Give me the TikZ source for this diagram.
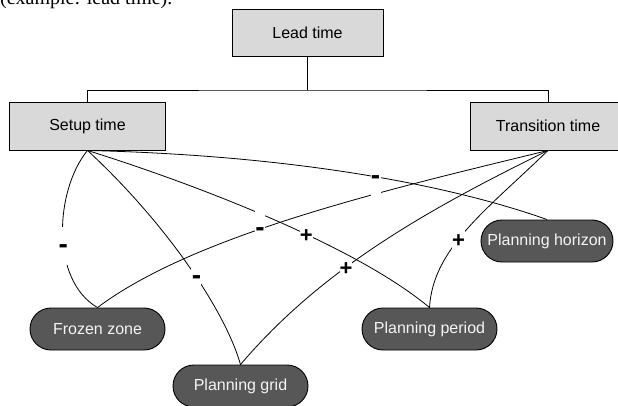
\documentclass[tikz,border=0pt]{standalone}
\usepackage{fontspec}
\setmainfont{Liberation Sans}
\newfontfamily\tnrfont{Liberation Serif}
\definecolor{boxgray}{HTML}{D9D9D9}
\definecolor{pillgray}{HTML}{575757}
\definecolor{pilltext}{HTML}{F4F4F4}
\begin{document}
\begin{tikzpicture}[x=1pt,y=-1pt,
  every node/.style={font=\fontsize{16}{19}\selectfont},
  sqbox/.style={draw=black, line width=0.9pt, fill=boxgray, minimum height=47pt, inner sep=0pt},
  pill/.style={draw=black, line width=0.9pt, fill=pillgray, text=pilltext, rounded corners=21pt, minimum width=135pt, minimum height=42pt, inner sep=0pt},
  link/.style={draw=black, line width=0.8pt},
  lblbase/.style={fill=white, inner sep=0pt, minimum width=10pt, minimum height=38pt},
  lblminus/.style={lblbase, font=\bfseries\fontsize{28}{28}\selectfont, text height=15.2pt, text depth=0pt},
  lblplus/.style={lblbase, font=\bfseries\fontsize{22}{22}\selectfont, text height=15.6pt, text depth=0pt},
]
\useasboundingbox (0,0) rectangle (618,405);
\fill[white] (0,0) rectangle (618,405);
\clip (0,0) rectangle (618,405);

\node[anchor=base west, inner sep=0pt, font=\tnrfont\fontsize{20}{24}\selectfont] (intro) at (0,4.5) {(example: lead time).};

\node[sqbox, minimum width=151pt] (lead) at (307.5,33) {Lead time};
\node[sqbox, minimum width=156pt, minimum height=48pt] (setup) at (87.5,126) {Setup time};
\node[sqbox, minimum width=156pt, minimum height=48pt] (trans) at (548,126) {Transition time};

\node[pill] (frozen) at (97.5,329) {Frozen zone};
\node[pill] (grid) at (240.5,386) {Planning grid};
\node[pill] (period) at (429.5,329) {Planning period};
\node[pill, minimum width=132pt] (horizon) at (547,241) {Planning horizon};

\coordinate (bus) at (307.5,90);
\draw[link] (lead.south) -- (bus);
\draw[link] (setup.north) |- (bus) -| (trans.north);

% edges (order matters for the white label boxes)
\draw[link] (setup.south) .. controls (55,190) and (50,280) .. node[lblminus,pos=0.57] (l1) {-} (frozen.north);
\draw[link] (trans.south) .. controls (426.7,210) and (321.7,269) .. node[lblplus,pos=0.61] (l6) {+} (grid.north);
\draw[link] (trans.south) .. controls (486.7,210) and (433,248) .. node[lblplus,pos=0.57] (l7) {+} (period.north);
\draw[link] (setup.south) .. controls (207.7,188.2) and (359,248.5) .. node[lblplus,pos=0.58] (l3) {+} (period.north);
\draw[link] (trans.south) .. controls (396.7,187.5) and (196.7,233) .. node[lblminus,pos=0.59] (l5) {-} (frozen.north);
\draw[link] (setup.south) .. controls (165,222) and (225,310) .. node[lblminus,pos=0.56] (l2) {-} (grid.north);
\draw[link] (setup.south) .. controls (320,156) and (470,192) .. node[lblminus,pos=0.5] (l4) {-} (horizon.north);
\end{tikzpicture}
\end{document}
